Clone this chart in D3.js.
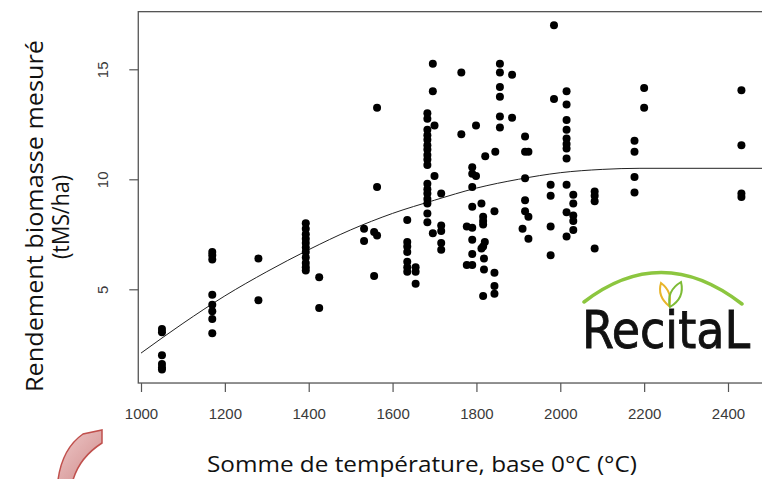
<!DOCTYPE html>
<html><head><meta charset="utf-8">
<script src="https://cdn.jsdelivr.net/npm/d3@7"></script>
<style>html,body{margin:0;padding:0;background:#fff}svg{display:block}</style>
</head><body>
<script>
// ---- data ----
const colTemp = [1050, 1170, 1280, 1393, 1425, 1532, 1556, 1563, 1635, 1655, 1683, 1696, 1700, 1716,
  1764, 1777, 1790, 1799, 1812, 1816, 1818, 1820, 1821, 1843, 1845, 1856, 1885, 1910, 1916, 1924,
  1977, 1985, 2015, 2031, 2082, 2177, 2200, 2432];
const colYield = [
  [3.2, 3.05, 2.0, 1.6, 1.45, 1.35],
  [6.7, 6.55, 6.35, 4.75, 4.3, 4.0, 3.65, 3.0],
  [6.4, 4.5],
  [8.0, 7.75, 7.5, 7.3, 7.1, 6.9, 6.7, 6.45, 6.2, 6.0, 5.85],
  [5.55, 4.15],
  [7.75, 7.2],
  [7.6, 5.6],
  [13.25, 9.65, 7.45],
  [8.15, 7.15, 6.95, 6.7, 6.25, 6.0, 5.8],
  [6.0, 5.8, 5.25],
  [13.0, 12.75, 12.25, 12.0, 11.8, 11.55, 11.35, 11.1, 10.9, 10.65, 9.8, 9.55, 9.35, 9.1, 8.9, 8.45, 8.05],
  [15.25, 14.0, 7.55],
  [12.45, 10.15],
  [9.35, 7.9, 7.65, 7.1, 6.8],
  [14.85, 12.05],
  [7.85, 6.1],
  [10.55, 10.25, 9.65, 8.75, 7.8, 7.25, 6.6, 6.1],
  [12.45, 10.15],
  [8.9, 6.85],
  [8.3, 8.1, 7.95, 6.95, 4.7],
  [6.4, 5.9],
  [7.15],
  [11.05],
  [8.55, 5.75, 5.15, 4.8],
  [11.25],
  [15.25, 14.85, 14.2, 13.75, 12.85, 12.35],
  [14.75, 12.8],
  [7.75],
  [11.95, 11.25, 10.05, 9.05, 8.55],
  [11.25, 8.3, 7.3],
  [9.75, 9.25, 7.85, 6.55],
  [17.0, 13.65],
  [14.0, 13.4, 12.7, 12.25, 11.85, 11.6, 11.4, 10.95, 9.75, 8.5, 7.4],
  [9.3, 8.9, 8.35, 8.1, 7.7],
  [9.45, 9.25, 9.0, 6.85],
  [11.75, 11.25, 10.1, 9.4],
  [14.15, 13.25],
  [14.05, 11.55, 9.35, 9.2]
];
// fitted curve
const fitTemp  = [1000, 1100, 1200, 1300, 1400, 1500, 1600, 1700, 1800, 1900, 2000, 2100, 2190, 2490];
const fitYield = [2.1, 3.45, 4.7, 5.8, 6.8, 7.7, 8.45, 9.05, 9.6, 10.0, 10.3, 10.45, 10.5, 10.5];
const xTicks = [1000, 1200, 1400, 1600, 1800, 2000, 2200, 2400];
const yTicks = [5, 10, 15];
const xTitle = "Somme de température, base 0°C (°C)";
const yTitle1 = "Rendement biomasse mesuré";
const yTitle2 = "(tMS/ha)";
const logoText = "RecitaL";

// ---- drawing ----
const W = 762, H = 479;
const svg = d3.select("body").append("svg").attr("width", W).attr("height", H);

const x = d3.scaleLinear().domain([1000, 2400]).range([141, 728]);
const y = d3.scaleLinear().domain([5, 15]).range([289.3, 69.3]);
const pLeft = x(993.5), pRight = x(2487), pTop = y(17.62), pBottom = y(0.74);

const points = [];
colTemp.forEach((t, i) => colYield[i].forEach(v => points.push({t, v})));

const defs = svg.append("defs");
defs.append("clipPath").attr("id", "plotclip")
  .append("rect").attr("x", pLeft).attr("y", pTop).attr("width", pRight - pLeft).attr("height", pBottom - pTop);

const axisColor = "#555";
const tickFont = "'Liberation Sans Narrow','Arial Narrow','Liberation Sans',Arial,sans-serif";

// x axis
const gx = svg.append("g").attr("transform", `translate(0,${pBottom})`)
  .call(d3.axisBottom(x).tickValues(xTicks).tickSize(9).tickPadding(16).tickSizeOuter(0).tickFormat(d3.format("d")));
gx.select(".domain").remove();
gx.selectAll("line").attr("stroke", axisColor).attr("stroke-width", 1.2);
gx.selectAll("text").attr("fill", "#3a3a3a").style("font-family", tickFont).style("font-size", "15px");

// y axis
const gy = svg.append("g").attr("transform", `translate(${pLeft},0)`)
  .call(d3.axisLeft(y).tickValues(yTicks).tickSize(9).tickSizeOuter(0));
gy.select(".domain").remove();
gy.selectAll("line").attr("stroke", axisColor).attr("stroke-width", 1.2);
gy.selectAll("text").attr("x", null).attr("dy", null).attr("y", 0)
  .attr("text-anchor", "middle").attr("transform", "translate(-30,0) rotate(-90)")
  .attr("fill", "#3a3a3a").style("font-family", tickFont).style("font-size", "15px");

// frame
svg.append("rect").attr("x", pLeft).attr("y", pTop).attr("width", pRight - pLeft).attr("height", pBottom - pTop)
  .attr("fill", "none").attr("stroke", axisColor).attr("stroke-width", 1.3);

// fitted line
svg.append("path").datum(fitTemp.map((t, i) => [t, fitYield[i]]))
  .attr("clip-path", "url(#plotclip)")
  .attr("d", d3.line().x(d => x(d[0])).y(d => y(d[1])).curve(d3.curveMonotoneX))
  .attr("fill", "none").attr("stroke", "#222").attr("stroke-width", 1);

// points
svg.append("g").selectAll("circle").data(points).join("circle")
  .attr("cx", d => x(d.t)).attr("cy", d => y(d.v)).attr("r", 4).attr("fill", "#000");

// titles
const titleFont = "'Open Sans','Noto Sans',sans-serif";
svg.append("text").attr("x", 422).attr("y", 472).attr("text-anchor", "middle")
  .attr("textLength", 430).attr("lengthAdjust", "spacingAndGlyphs")
  .style("font-family", titleFont).style("font-size", "21px").attr("fill", "#111").text(xTitle);
svg.append("text").attr("transform", "translate(43,216) rotate(-90)").attr("text-anchor", "middle")
  .attr("textLength", 352).attr("lengthAdjust", "spacingAndGlyphs")
  .style("font-family", titleFont).style("font-size", "24px").attr("fill", "#111").text(yTitle1);
svg.append("text").attr("transform", "translate(69,217) rotate(-90)").attr("text-anchor", "middle")
  .attr("textLength", 84).attr("lengthAdjust", "spacingAndGlyphs")
  .style("font-family", titleFont).style("font-size", "24px").attr("fill", "#111").text(yTitle2);

// logo
const logo = svg.append("g");
logo.append("path").attr("d", "M584,302 Q662,242 742,304").attr("fill", "none")
  .attr("stroke", "#8cc63f").attr("stroke-width", 3.5).attr("stroke-linecap", "round");
logo.append("path").attr("d", "M669,306 Q657,296 661,283 Q673,292 669,306 Z")
  .attr("fill", "none").attr("stroke", "#e8b52a").attr("stroke-width", 2);
logo.append("path").attr("d", "M670,307 Q666,291 681,282 Q685,298 670,307 Z")
  .attr("fill", "none").attr("stroke", "#7dbb35").attr("stroke-width", 2);
const lt = logo.append("text").attr("x", 582).attr("y", 348)
  .style("font-family", "'DejaVu Sans Condensed','DejaVu Sans',sans-serif").style("font-size", "58px")
  .attr("fill", "#111").attr("stroke", "#111").attr("stroke-width", 0.8).text(logoText);
const natural = lt.node().getComputedTextLength();
if (natural > 0) lt.style("font-size", (58 * 168 / natural).toFixed(1) + "px");

// decorative arrow fragment bottom-left
const grad = defs.append("linearGradient").attr("id", "arrowgrad")
  .attr("x1", "0").attr("y1", "0").attr("x2", "1").attr("y2", "1");
grad.append("stop").attr("offset", "0").attr("stop-color", "#efcaca");
grad.append("stop").attr("offset", "1").attr("stop-color", "#d08c8c");
svg.append("path").attr("d", "M58,480 C61,458 70,443 83,434 L102,430 L102,443 C88,452 78,463 73,480 Z")
  .attr("fill", "url(#arrowgrad)").attr("stroke", "#c0504d").attr("stroke-width", 1.5);
</script>
</body></html>
